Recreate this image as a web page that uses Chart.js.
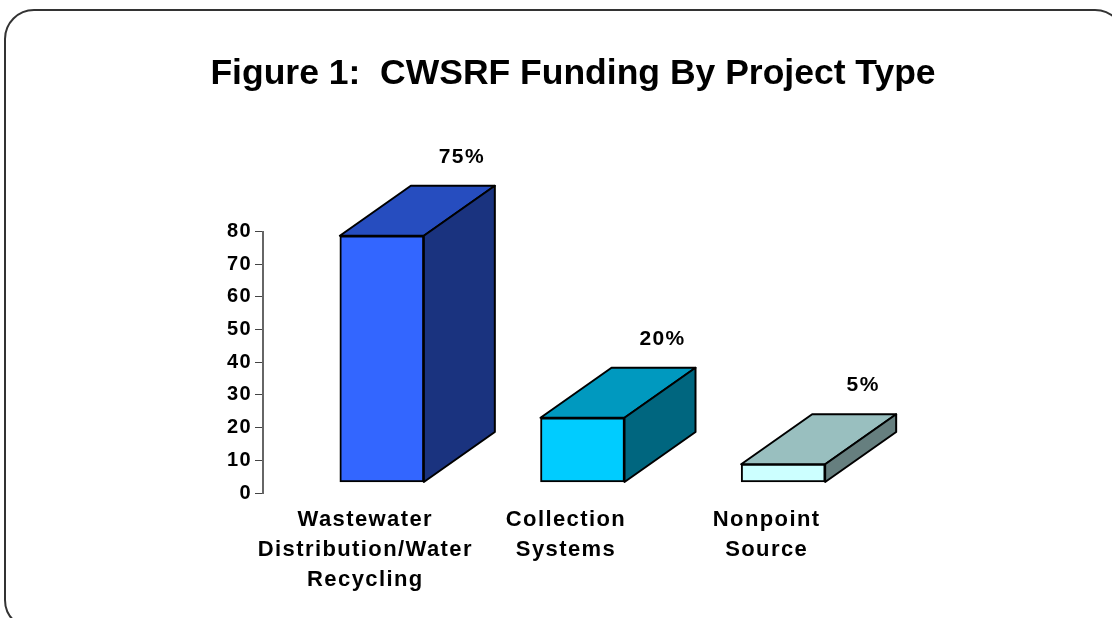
<!DOCTYPE html>
<html lang="en">
<head>
    <meta charset="UTF-8">
    <title>CWSRF Funding By Project Type</title>
    <script src="https://cdn.jsdelivr.net/npm/chart.js"></script>
    <style>
        html, body {
            margin: 0;
            padding: 0;
            width: 1112px;
            height: 618px;
            overflow: hidden;
            background: #fff;
        }
        #frame {
            position: absolute;
            left: 4px;
            top: 9px;
            width: 1121px;
            height: 621px;
            border: 2px solid #333;
            border-radius: 30px;
            box-sizing: border-box;
        }
        #wrap {
            position: absolute;
            left: 0;
            top: 0;
            width: 1112px;
            height: 618px;
        }
    </style>
</head>
<body>
    <div id="frame"></div>
    <div id="wrap"><canvas id="fundingChart" width="1112" height="618"></canvas></div>

    <script>
        const categories = [
            ['Wastewater', 'Distribution/Water', 'Recycling'],
            ['Collection', 'Systems'],
            ['Nonpoint', 'Source']
        ];
        const barHeights = [75.5, 19.8, 5.6];
        const valueLabels = ['75%', '20%', '5%'];
        const frontColors = ['#3366ff', '#00ccff', '#ccffff'];
        const topColors = ['#264dbf', '#0099bf', '#99bfbf'];
        const sideColors = ['#1a337f', '#00667f', '#667f7f'];

        const fontName = '"Liberation Sans", Arial, sans-serif';

        // fake 3D: the bars sit up and right of the axis, faces added behind the front
        const box3d = {
            id: 'box3d',
            beforeDraw(chart) {
                chart.ctx.letterSpacing = '1.4px';
            },
            afterLayout(chart) {
                // title is centred a bit right of the canvas and set tighter than the axis text
                const title = chart.titleBlock;
                const drawTitle = title.constructor.prototype.draw;
                title.left = 34;
                title.right = 1112;
                title.draw = function () {
                    chart.ctx.letterSpacing = '0px';
                    drawTitle.call(title);
                    chart.ctx.letterSpacing = '1.4px';
                };
            },
            beforeDatasetsDraw(chart) {
                const ctx = chart.ctx;
                ctx.save();
                ctx.translate(18.5, -10.5);
                ctx.strokeStyle = '#000';
                ctx.lineWidth = 2;
                ctx.lineJoin = 'round';
                chart.getDatasetMeta(0).data.forEach((bar, i) => {
                    const left = bar.x - bar.width / 2;
                    const right = bar.x + bar.width / 2;
                    face(ctx, topColors[i], [[left, bar.y], [left + 71, bar.y - 50], [right + 71, bar.y - 50], [right, bar.y]]);
                    face(ctx, sideColors[i], [[right, bar.y], [right + 71, bar.y - 50], [right + 71, bar.base - 50], [right, bar.base]]);
                });
            },
            afterDatasetsDraw(chart) {
                const ctx = chart.ctx;
                ctx.fillStyle = '#000';
                ctx.font = 'bold 21px ' + fontName;
                ctx.textAlign = 'center';
                ctx.textBaseline = 'middle';
                chart.getDatasetMeta(0).data.forEach((bar, i) => {
                    ctx.fillText(valueLabels[i], bar.x + 80, bar.y - 79);
                });
                ctx.restore();
            }
        };

        function face(ctx, color, pts) {
            ctx.beginPath();
            pts.forEach((p, i) => i ? ctx.lineTo(p[0], p[1]) : ctx.moveTo(p[0], p[1]));
            ctx.closePath();
            ctx.fillStyle = color;
            ctx.fill();
            ctx.stroke();
        }

        new Chart(document.getElementById('fundingChart'), {
            type: 'bar',
            data: {
                labels: categories,
                datasets: [{
                    data: barHeights,
                    backgroundColor: frontColors,
                    borderColor: '#000',
                    borderWidth: 2,
                    borderSkipped: false,
                    barThickness: 84,
                    clip: false
                }]
            },
            options: {
                responsive: false,
                animation: false,
                layout: { padding: { left: 0, right: 247, top: 0, bottom: 0 } },
                plugins: {
                    legend: { display: false },
                    tooltip: { enabled: false },
                    title: {
                        display: true,
                        text: 'Figure 1:  CWSRF Funding By Project Type',
                        color: '#000',
                        font: { family: fontName, size: 35.5, weight: 'bold', lineHeight: 1.2 },
                        padding: { top: 53, bottom: 136 }
                    }
                },
                scales: {
                    x: {
                        afterFit(scale) { scale.height = 125; },
                        grid: { display: false },
                        border: { display: false },
                        ticks: {
                            color: '#000',
                            font: { family: fontName, size: 22, weight: 'bold', lineHeight: '30px' },
                            maxRotation: 0,
                            autoSkip: false,
                            padding: 4,
                            labelOffset: 2
                        }
                    },
                    y: {
                        min: 0,
                        max: 80,
                        afterFit(scale) { scale.width = 263; },
                        grid: { drawOnChartArea: false, color: '#444', tickLength: 8 },
                        border: { color: '#666', width: 2 },
                        ticks: {
                            stepSize: 10,
                            color: '#000',
                            font: { family: fontName, size: 20, weight: 'bold' },
                            padding: 3
                        }
                    }
                }
            },
            plugins: [box3d]
        });
    </script>
</body>
</html>
